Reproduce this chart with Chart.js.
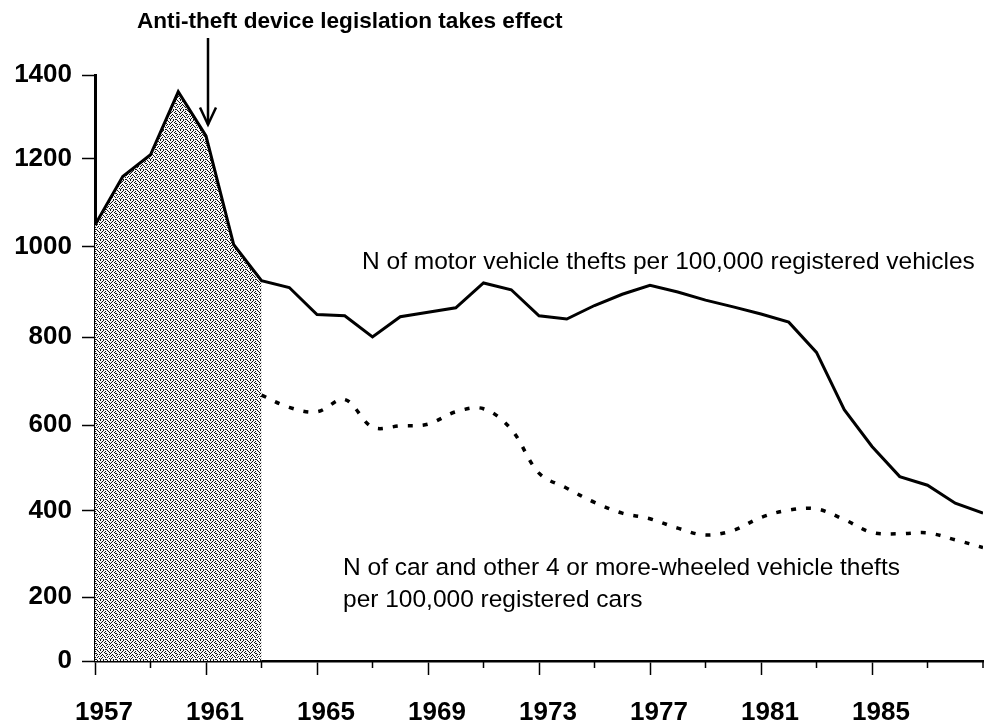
<!DOCTYPE html>
<html>
<head>
<meta charset="utf-8">
<script src="https://cdn.jsdelivr.net/npm/chart.js@4/dist/chart.umd.min.js"></script>
<style>
  html, body { margin: 0; padding: 0; background: #fff; }
  #wrap { position: relative; width: 986px; height: 724px; }
</style>
</head>
<body>
<div id="wrap"><canvas id="c" width="986" height="724"></canvas></div>
<script>
// ---- data ----
const years = [1957,1958,1959,1960,1961,1962,1963,1964,1965,1966,1967,1968,1969,1970,1971,1972,1973,1974,1975,1976,1977,1978,1979,1980,1981,1982,1983,1984,1985,1986,1987,1988,1989];
const motorVehicleThefts = [1050,1160,1210,1360,1255,1005,925,910,850,847,800,845,855,865,920,905,847,840,870,895,915,900,882,867,851,833,765,635,550,480,460,418,395];
const carThefts = [null,null,null,null,null,null,668,640,630,658,595,598,602,630,637,590,488,453,420,395,382,360,344,355,385,402,405,380,350,347,349,333,315];
const labeledYears = [1957,1961,1965,1969,1973,1977,1981,1985];
const yTickValues = [0,200,400,600,800,1000,1200,1400];
const shadeEndYear = 1963;
const legislationYear = 1961;

const motorLabel = 'N of motor vehicle thefts per 100,000 registered vehicles';
const carLabelLines = ['N of car and other 4 or more-wheeled vehicle thefts', 'per 100,000 registered cars'];
const annotationText = 'Anti-theft device legislation takes effect';

// ---- axis warp (the original axis is not evenly spaced) ----
const yWarp = [0, 0.1092, 0.2560, 0.4027, 0.5529, 0.7065, 0.8567, 1];

class WarpedLinear extends Chart.LinearScale {
  _frac(v) {
    const step = 200;
    if (v <= 0) return yWarp[0] + (v / step) * (yWarp[1] - yWarp[0]);
    const i = Math.min(Math.floor(v / step), yWarp.length - 2);
    const t = (v - i * step) / step;
    return yWarp[i] + t * (yWarp[i + 1] - yWarp[i]);
  }
  getPixelForValue(value) {
    if (value === null || value === undefined || isNaN(value)) return NaN;
    return this.getPixelForDecimal(this._frac(value));
  }
  getValueForPixel(pixel) {
    const d = this.getDecimalForPixel(pixel);
    for (let i = 0; i < yWarp.length - 1; i++) {
      if (d <= yWarp[i + 1] || i === yWarp.length - 2) {
        const t = (d - yWarp[i]) / (yWarp[i + 1] - yWarp[i]);
        return (i + t) * 200;
      }
    }
    return 0;
  }
}
WarpedLinear.id = 'warpedLinear';
WarpedLinear.defaults = Chart.LinearScale.defaults;
Chart.register(WarpedLinear);

// ---- stipple texture for the shaded period ----
const stippleRows = [
  '1001000100',
  '0010010010',
  '0100100001',
  '1000011000',
  '0010000101',
  '0101001000',
  '1000100010',
  '0010010100',
  '0100000001',
  '1001011000'
];
function makeStipple() {
  const c = document.createElement('canvas');
  c.width = 10; c.height = 10;
  const g = c.getContext('2d');
  g.fillStyle = '#f4f4f4';
  g.fillRect(0, 0, 10, 10);
  g.fillStyle = '#111111';
  stippleRows.forEach((row, y) => {
    for (let x = 0; x < row.length; x++) if (row[x] === '1') g.fillRect(x, y, 1, 1);
  });
  return document.getElementById('c').getContext('2d').createPattern(c, 'repeat');
}

const toPoints = (vals) => years.map((y, i) => ({ x: y, y: vals[i] }));
const shadePoints = toPoints(motorVehicleThefts).filter(p => p.x <= shadeEndYear);

const FONT = '"Liberation Sans", Arial, Helvetica, sans-serif';

const overlay = {
  id: 'overlay',
  afterDraw(chart) {
    const ctx = chart.ctx;
    const xs = chart.scales.x, ys = chart.scales.y;
    const area = chart.chartArea;
    ctx.save();
    // minor x ticks
    ctx.strokeStyle = '#000';
    ctx.lineWidth = 1.5;
    xs.ticks.forEach(t => {
      if (labeledYears.indexOf(t.value) === -1) {
        const px = xs.getPixelForValue(t.value);
        ctx.beginPath();
        ctx.moveTo(px, area.bottom);
        ctx.lineTo(px, area.bottom + 7);
        ctx.stroke();
      }
    });
    // annotation text
    ctx.fillStyle = '#000';
    ctx.font = 'bold 22.6px ' + FONT;
    ctx.textBaseline = 'middle';
    ctx.textAlign = 'left';
    ctx.fillText(annotationText, 137, 22);
    // arrow
    const ax = xs.getPixelForValue(legislationYear) + 2;
    const tipY = ys.getPixelForValue(1282);
    ctx.lineWidth = 2.5;
    ctx.beginPath();
    ctx.moveTo(ax, 38);
    ctx.lineTo(ax, tipY);
    ctx.stroke();
    ctx.beginPath();
    ctx.moveTo(ax - 8, tipY - 17);
    ctx.lineTo(ax, tipY);
    ctx.lineTo(ax + 8, tipY - 17);
    ctx.stroke();
    // series labels
    ctx.font = '24.5px ' + FONT;
    ctx.fillText(motorLabel, 362, 262);
    ctx.fillText(carLabelLines[0], 343, 568);
    ctx.fillText(carLabelLines[1], 343, 600);
    ctx.restore();
  }
};

new Chart(document.getElementById('c'), {
  type: 'line',
  data: {
    datasets: [
      {
        label: 'shade',
        data: shadePoints,
        fill: 'origin',
        backgroundColor: makeStipple(),
        borderWidth: 0,
        pointRadius: 0,
        tension: 0,
        order: 3
      },
      {
        label: motorLabel,
        data: toPoints(motorVehicleThefts),
        borderColor: '#000',
        borderWidth: 3,
        pointRadius: 0,
        tension: 0,
        fill: false,
        order: 1
      },
      {
        label: carLabelLines.join(' '),
        data: toPoints(carThefts),
        borderColor: '#000',
        borderWidth: 3.5,
        borderDash: [5, 10],
        borderCapStyle: 'butt',
        pointRadius: 0,
        tension: 0.35,
        fill: false,
        spanGaps: false,
        order: 2
      }
    ]
  },
  options: {
    responsive: false,
    animation: false,
    layout: { padding: { top: 75, right: 3, left: 0, bottom: 0 } },
    plugins: { legend: { display: false }, tooltip: { enabled: false } },
    scales: {
      x: {
        type: 'linear',
        min: 1957,
        max: 1989,
        afterFit: s => { s.height = 63; s.paddingLeft = 0; s.paddingRight = 0; },
        afterBuildTicks: s => {
          const t = [];
          for (let v = 1957; v <= 1989; v += 2) t.push({ value: v });
          s.ticks = t;
        },
        border: { display: true, color: '#000', width: 2.5 },
        grid: {
          display: true,
          drawOnChartArea: false,
          drawTicks: true,
          tickLength: 14,
          tickWidth: 1.5,
          tickColor: ctx => (ctx.tick && labeledYears.indexOf(ctx.tick.value) !== -1) ? '#000' : 'rgba(0,0,0,0)'
        },
        ticks: {
          autoSkip: false,
          maxRotation: 0,
          padding: 22,
          labelOffset: 9,
          color: '#000',
          font: { family: FONT, size: 26, weight: 'bold' },
          callback: v => labeledYears.indexOf(v) !== -1 ? String(v) : ''
        }
      },
      y: {
        type: 'warpedLinear',
        min: 0,
        max: 1400,
        afterFit: s => { s.width = 95; s.paddingTop = 0; s.paddingBottom = 0; },
        afterBuildTicks: s => { s.ticks = yTickValues.map(v => ({ value: v })); },
        border: { display: true, color: '#000', width: 3 },
        grid: {
          display: true,
          drawOnChartArea: false,
          drawTicks: true,
          tickLength: 13,
          tickWidth: 1.5,
          tickColor: '#000'
        },
        ticks: {
          padding: 10,
          color: '#000',
          font: { family: FONT, size: 26, weight: 'bold' },
          callback: v => String(v)
        }
      }
    }
  },
  plugins: [overlay]
});
</script>
</body>
</html>
